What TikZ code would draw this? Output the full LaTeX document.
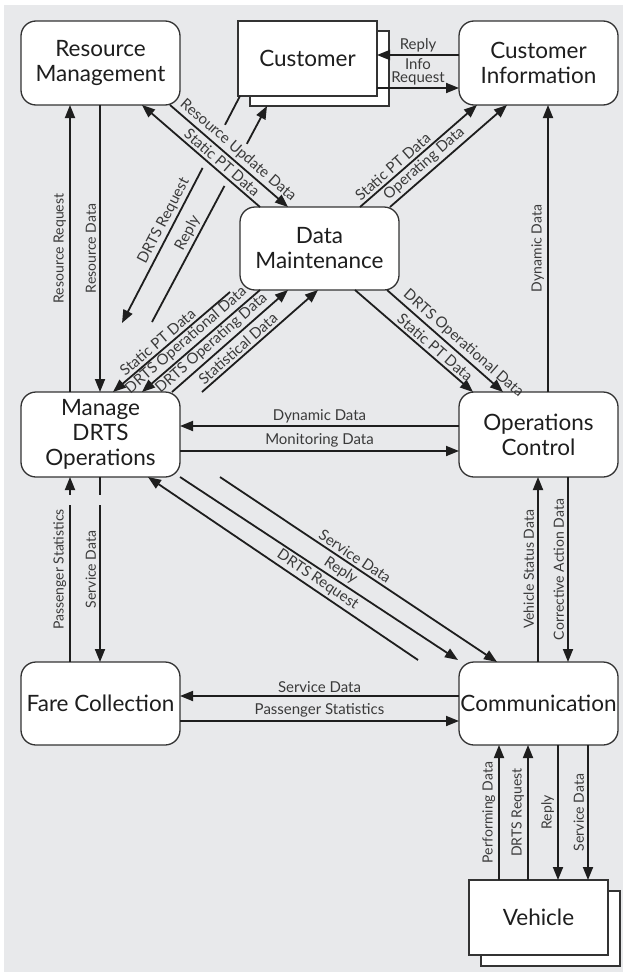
\documentclass[tikz,border=0pt]{standalone}
\usepackage{fontspec}
\setmainfont{Lato}
\usetikzlibrary{arrows.meta,calc}
\definecolor{canvas}{HTML}{E8E9EB}
\definecolor{ink}{HTML}{1E1E1E}
\definecolor{edge}{HTML}{333333}
\definecolor{lbltxt}{HTML}{3A3A3A}
\begin{document}
\begin{tikzpicture}[x=1pt,y=-1pt,
  proc/.style={draw=edge, line width=1.3pt, fill=white, rounded corners=15pt,
    minimum width=159pt, minimum height=84pt, inner sep=0pt, outer sep=0pt,
    align=center, font=\fontsize{22.5}{25}\selectfont, text=ink},
  ext/.style={draw=edge, line width=1.3pt, fill=white, minimum width=139pt,
    minimum height=75pt, inner sep=0pt, outer sep=0pt,
    font=\fontsize{22.5}{25}\selectfont, text=ink},
  flow/.style={draw=ink, line width=1.8pt, -{Triangle[length=13pt,width=10pt]}},
  lbl/.style={font=\fontsize{15}{13}\selectfont, text=lbltxt, inner sep=2.5pt},
  vlbl/.style={lbl, font=\fontsize{14}{13}\selectfont, midway, rotate=90, anchor=south, inner sep=3pt},
  gap/.style={draw=canvas, line width=5pt},
]
\useasboundingbox (0,0) rectangle (627,977);
\fill[white] (0,0) rectangle (627,977);
\fill[canvas] (4,5) rectangle (623,972);

% processes and external entities
\node[proc] (rm) at (100.5,63) {Resource\\Management};
\node[ext] (custb) at (319.5,68.5) {};
\node[ext] (cust) at (307.5,58.5) {Customer};
\node[proc] (ci) at (538.5,63) {Customer\\Information};
\node[proc, minimum height=83pt] (dm) at (319.5,248.5) {Data\\Maintenance};
\node[proc, minimum height=85pt] (mo) at (100.5,434.5) {Manage\\DRTS\\Operations};
\node[proc, minimum height=85pt] (oc) at (538.5,434.5) {Operations\\Control};
\node[proc, minimum height=83pt] (fc) at (100.5,703.5) {Fare Collection};
\node[proc, minimum height=83pt] (com) at (538.5,703.5) {Communication};
\node[ext] (vehb) at (550.5,928.5) {};
\node[ext] (veh) at (538.5,917.5) {Vehicle};

% free ends of the open flows
\coordinate (drtsEnd) at (122,323);
\coordinate (replyStart) at (152,322);
\coordinate (sptStart) at (230,292);
\coordinate (statStart) at (202,392);
\coordinate (reqEnd) at (418,660);
\coordinate (repStart) at (180,477);
\coordinate (repEnd) at (458,660);
\coordinate (svcStart) at (220,477);

% Resource Management <-> Manage DRTS Operations
\draw[flow] ([xshift=-30.5pt]mo.north) -- node[vlbl] {Resource Request} ([xshift=-30.5pt]rm.south);
\draw[flow] ([xshift=-0.5pt]rm.south) -- node[vlbl] {Resource Data} ([xshift=-0.5pt]mo.north);

% Customer <-> Manage DRTS Operations (broken where they pass the other pair)
\draw[flow] ([xshift=-67.5pt]cust.south) -- node[lbl, pos=0.57, sloped, above] {DRTS Request} (drtsEnd);
\draw[flow] (replyStart) -- node[lbl, pos=0.389, sloped, above] {Reply} ([xshift=-52.5pt]custb.south);
\draw[gap, shorten <=32.6pt, shorten >=174.9pt] ([xshift=-67.5pt]cust.south) -- (drtsEnd);
\draw[gap, shorten <=154.3pt, shorten >=43pt] (replyStart) -- ([xshift=-52.5pt]custb.south);

% Resource Management <-> Data Maintenance
\draw[flow] ([xshift=69.5pt]rm.south) -- node[lbl, pos=0.52, sloped, above] {Resource Update Data} ([xshift=-31.5pt]dm.north);
\draw[flow] ([xshift=-59.5pt]dm.north) -- node[lbl, pos=0.37, sloped, above] {Static PT Data} ([xshift=41.5pt]rm.south);

% Customer <-> Customer Information
\draw[flow] ([yshift=8pt]ci.west) -- node[lbl, above] {Reply} ([yshift=3.5pt]cust.east);
\draw[flow] ([yshift=-29.5pt]cust.east) -- node[lbl, above, align=center] {Info\\Request} ([yshift=-25pt]ci.west);

% Data Maintenance -> Customer Information
\draw[flow] ([xshift=40.5pt]dm.north) -- node[lbl, pos=0.33, sloped, above] {Static PT Data} ([xshift=-61.5pt]ci.south);
\draw[flow] ([xshift=70.5pt]dm.north) -- node[lbl, pos=0.35, sloped, above] {Operating Data} ([xshift=-31.5pt]ci.south);

% Operations Control -> Customer Information
\draw[flow] ([xshift=9.5pt]oc.north) -- node[vlbl] {Dynamic Data} ([xshift=9.5pt]ci.south);

% Data Maintenance <-> Manage DRTS Operations
\draw[flow] (sptStart) -- node[lbl, pos=0.57, sloped, above] {Static PT Data} ([xshift=12.5pt]mo.north);
\draw[flow] ([xshift=-59.5pt]dm.south) -- node[lbl, pos=0.57, sloped, above] {DRTS Operational Data} ([xshift=41.5pt]mo.north);
\draw[flow] ([xshift=71.5pt]mo.north) -- node[lbl, pos=0.40, sloped, above] {DRTS Operating Data} ([xshift=-31.5pt]dm.south);
\draw[flow] (statStart) -- node[lbl, pos=0.36, sloped, above] {Statistical Data} ([xshift=-1.5pt]dm.south);

% Data Maintenance -> Operations Control
\draw[flow] ([xshift=35.5pt]dm.south) -- node[lbl, pos=0.63, sloped, above] {Static PT Data} ([xshift=-65.5pt]oc.north);
\draw[flow] ([xshift=67.5pt]dm.south) -- node[lbl, pos=0.60, sloped, above] {DRTS Operational Data} ([xshift=-35.5pt]oc.north);

% Manage DRTS Operations <-> Operations Control
\draw[flow] ([yshift=8.5pt]oc.west) -- node[lbl, above] {Dynamic Data} ([yshift=8.5pt]mo.east);
\draw[flow] ([yshift=-16.5pt]mo.east) -- node[lbl, above] {Monitoring Data} ([yshift=-16.5pt]oc.west);

% Manage DRTS Operations <-> Communication
\draw[flow] (reqEnd) -- node[lbl, pos=0.393, sloped, above] {DRTS Request} ([xshift=47.5pt]mo.south);
\draw[flow] (repStart) -- node[lbl, pos=0.558, sloped, above] {Reply} (repEnd);
\draw[flow] (svcStart) -- node[lbl, pos=0.47, sloped, above] {Service Data} ([xshift=-41.5pt]com.north);

% Operations Control <-> Communication
\draw[flow] ([xshift=-0.5pt]com.north) -- node[vlbl] {Vehicle Status Data} ([xshift=-0.5pt]oc.south);
\draw[flow] ([xshift=29.5pt]oc.south) -- node[vlbl] {Corrective Action Data} ([xshift=29.5pt]com.north);

% Communication <-> Fare Collection
\draw[flow] ([yshift=7.5pt]com.west) -- node[lbl, above] {Service Data} ([yshift=7.5pt]fc.east);
\draw[flow] ([yshift=-17.5pt]fc.east) -- node[lbl, above] {Passenger Statistics} ([yshift=-17.5pt]com.west);

% Manage DRTS Operations <-> Fare Collection
\draw[flow] ([xshift=-30.5pt]fc.north) -- node[vlbl] {Passenger Statistics} ([xshift=-30.5pt]mo.south);
\draw[flow] ([xshift=-0.5pt]mo.south) -- node[vlbl] {Service Data} ([xshift=-0.5pt]fc.north);
\fill[canvas] (62,495) rectangle (108,505);

% Vehicle <-> Communication
\draw[flow] ([xshift=-39.5pt]veh.north) -- node[vlbl] {Performing Data} ([xshift=-39.5pt]com.south);
\draw[flow] ([xshift=-10.5pt]veh.north) -- node[vlbl] {DRTS Request} ([xshift=-10.5pt]com.south);
\draw[flow] ([xshift=19.5pt]com.south) -- node[vlbl] {Reply} ([xshift=19.5pt]veh.north);
\draw[flow] ([xshift=49.5pt]com.south) -- node[vlbl] {Service Data} ([xshift=49.5pt]veh.north);
\end{tikzpicture}
\end{document}
